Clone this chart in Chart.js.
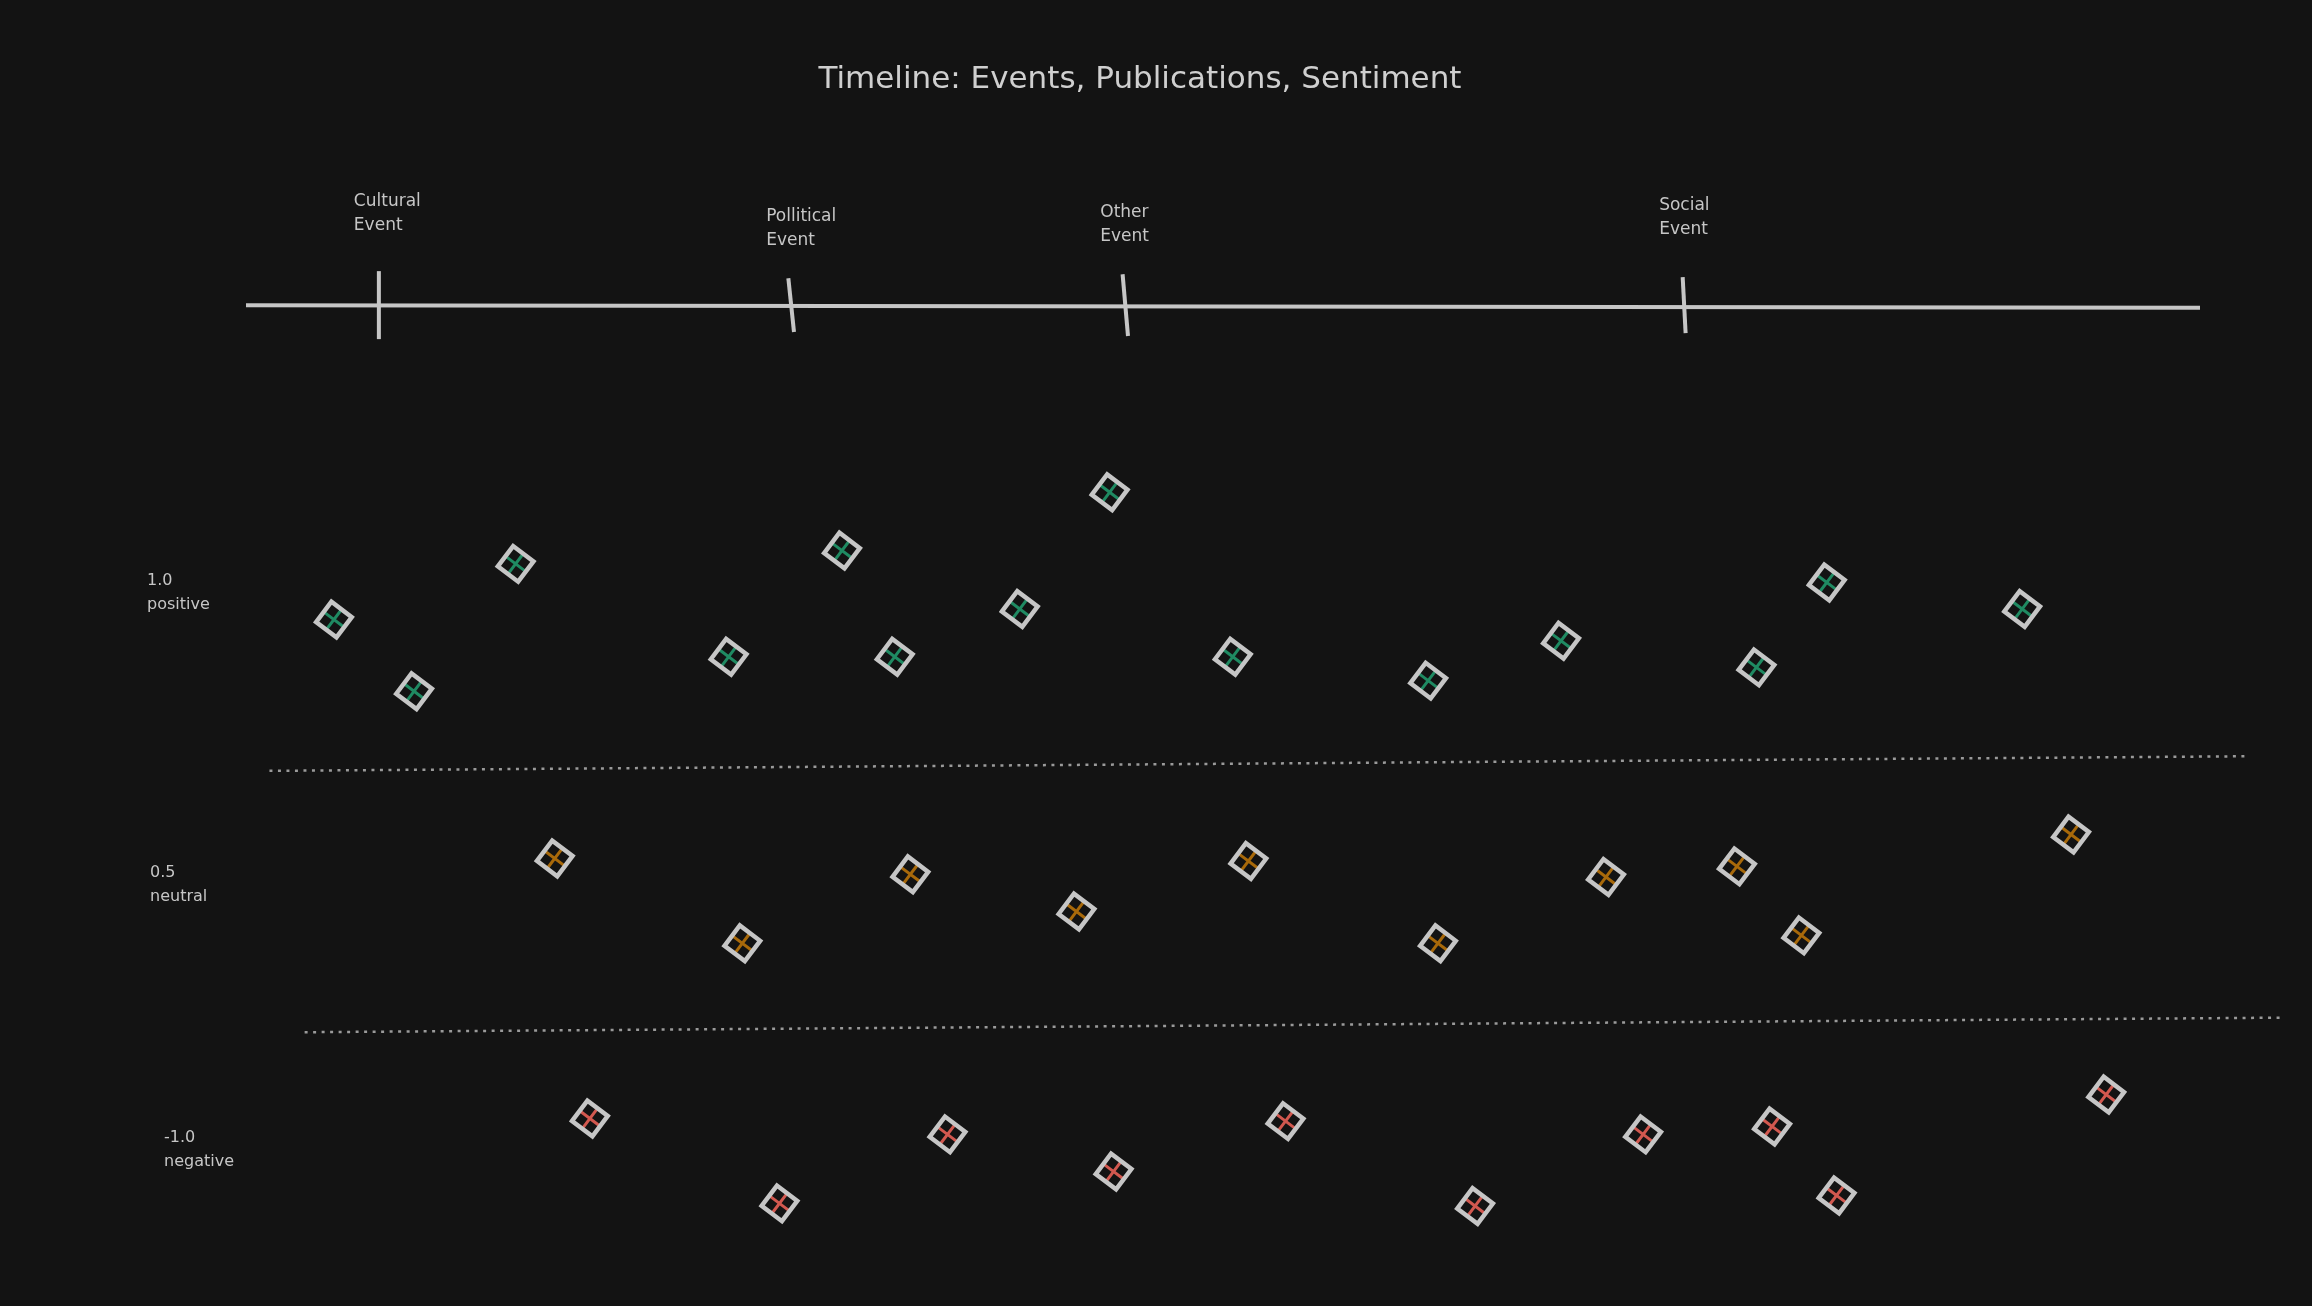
<!DOCTYPE html>
<html>
<head>
<meta charset="utf-8">
<title>Timeline: Events, Publications, Sentiment</title>
<script src="https://cdn.jsdelivr.net/npm/chart.js@4.4.1/dist/chart.umd.min.js"></script>
<style>
  html, body { margin: 0; padding: 0; background: #131313; overflow: hidden; }
  canvas { display: block; }
</style>
</head>
<body>
<canvas id="timelineChart" width="2312" height="1306"></canvas>
<script>
// time runs 0..100 along the timeline, sentiment lanes: 2 = positive, 1 = neutral, 0 = negative
const chartTitle = 'Timeline: Events, Publications, Sentiment';

const eventNames = ['Cultural\nEvent', 'Pollitical\nEvent', 'Other\nEvent', 'Social\nEvent'];
const eventTimes = [6.8, 27.9, 45.0, 73.6];
const timelineLevel = 3.185;

const laneNames = ['1.0\npositive', '0.5\nneutral', '-1.0\nnegative'];
const laneValues = [2.1, 1.0, 0.0];

const positiveTimes = [4.5, 8.6, 13.8, 24.7, 30.5, 33.2, 39.6, 44.2, 50.5, 60.5, 67.3, 77.3, 80.9, 90.9];
const positiveScores = [2.00, 1.73, 2.21, 1.86, 2.26, 1.86, 2.04, 2.48, 1.86, 1.77, 1.92, 1.82, 2.14, 2.04];

const neutralTimes = [15.8, 25.4, 34.0, 42.5, 51.3, 61.0, 69.6, 76.3, 79.6, 93.4];
const neutralScores = [1.10, 0.78, 1.04, 0.90, 1.09, 0.78, 1.03, 1.07, 0.81, 1.19];

const negativeTimes = [17.6, 27.3, 35.9, 44.4, 53.2, 62.9, 71.5, 78.1, 81.4, 95.2];
const negativeScores = [0.12, -0.20, 0.06, -0.08, 0.11, -0.21, 0.06, 0.09, -0.17, 0.21];

// lane separators (dotted), start and end time / level
const separatorTimes = [[1.2, 102.4], [3.0, 104.3]];
const separatorLevels = [[1.43, 1.485], [0.445, 0.50]];

const INK = '#c6c6c6';
const FONT = '"DejaVu Sans", sans-serif';

function pts(xs, ys) {
    return xs.map((x, i) => ({ x: x, y: ys[i] }));
}

function markerSets(xs, ys, color) {
    const data = pts(xs, ys);
    return [{
        data: data,
        pointStyle: 'rectRot',
        pointRadius: 18,
        pointBorderWidth: 4.5,
        pointBorderColor: INK,
        pointBackgroundColor: 'rgba(0,0,0,0)',
        rotation: -8,
        clip: false
    }, {
        data: data,
        pointStyle: 'crossRot',
        pointRadius: 12,
        pointBorderWidth: 3,
        pointBorderColor: color,
        rotation: -8,
        clip: false
    }];
}

const datasets = [];
datasets.push(...markerSets(positiveTimes, positiveScores, '#1f8a62'));
datasets.push(...markerSets(neutralTimes, neutralScores, '#a8690a'));
datasets.push(...markerSets(negativeTimes, negativeScores, '#d2584f'));

// event ticks on the timeline
datasets.push({
    data: eventTimes.map(t => ({ x: t, y: timelineLevel })),
    pointStyle: 'line',
    pointRadius: [34, 27, 31, 28],
    rotation: [90, 84, 85, 87],
    pointBorderWidth: 4,
    pointBorderColor: INK,
    clip: false
});

// the timeline itself
datasets.push({
    data: [{ x: 0, y: timelineLevel }, { x: 100, y: timelineLevel - 0.01 }],
    showLine: true,
    borderColor: INK,
    borderWidth: 4,
    pointRadius: 0,
    clip: false
});

separatorTimes.forEach((ts, i) => {
    datasets.push({
        data: pts(ts, separatorLevels[i]),
        showLine: true,
        borderColor: '#9a9a9a',
        borderWidth: 2.5,
        borderDash: [3, 5.5],
        pointRadius: 0,
        clip: false
    });
});

const sketchLabels = {
    id: 'sketchLabels',
    beforeDraw(chart) {
        const ctx = chart.ctx;
        ctx.save();
        ctx.fillStyle = '#131313';
        ctx.fillRect(0, 0, chart.width, chart.height);
        ctx.restore();
    },
    afterDatasetsDraw(chart) {
        const { ctx, scales: { x, y }, chartArea } = chart;
        ctx.save();
        ctx.textBaseline = 'middle';

        // title, a little left of centre like the original
        ctx.font = '31px ' + FONT;
        ctx.textAlign = 'center';
        ctx.fillStyle = '#cfcfcf';
        ctx.fillText(chartTitle, 1140, 80);

        ctx.textAlign = 'left';
        ctx.fillStyle = INK;

        // event labels above the ticks
        const lift = [-104, -89, -93, -100];
        ctx.font = '17px ' + FONT;
        eventNames.forEach((name, i) => {
            const px = x.getPixelForValue(eventTimes[i]) - 25;
            const py = y.getPixelForValue(timelineLevel) + lift[i];
            name.split('\n').forEach((line, j) => ctx.fillText(line, px, py + j * 24));
        });

        // sentiment lane labels on the left
        const shift = [-99, -96, -82];
        ctx.font = '16px ' + FONT;
        laneNames.forEach((name, i) => {
            const px = chartArea.left + shift[i];
            const py = y.getPixelForValue(laneValues[i]) - 12;
            name.split('\n').forEach((line, j) => ctx.fillText(line, px, py + j * 24));
        });
        ctx.restore();
    }
};

new Chart(document.getElementById('timelineChart'), {
    type: 'scatter',
    data: { datasets: datasets },
    options: {
        responsive: false,
        animation: false,
        events: [],
        layout: {
            autoPadding: false,
            padding: { left: 246, right: 112, top: 195, bottom: 23 }
        },
        scales: {
            x: { type: 'linear', min: 0, max: 100, display: false },
            y: { type: 'linear', min: -0.5, max: 3.6, display: false }
        },
        plugins: {
            legend: { display: false },
            tooltip: { enabled: false },
            title: { display: false }
        }
    },
    plugins: [sketchLabels]
});
</script>
</body>
</html>
